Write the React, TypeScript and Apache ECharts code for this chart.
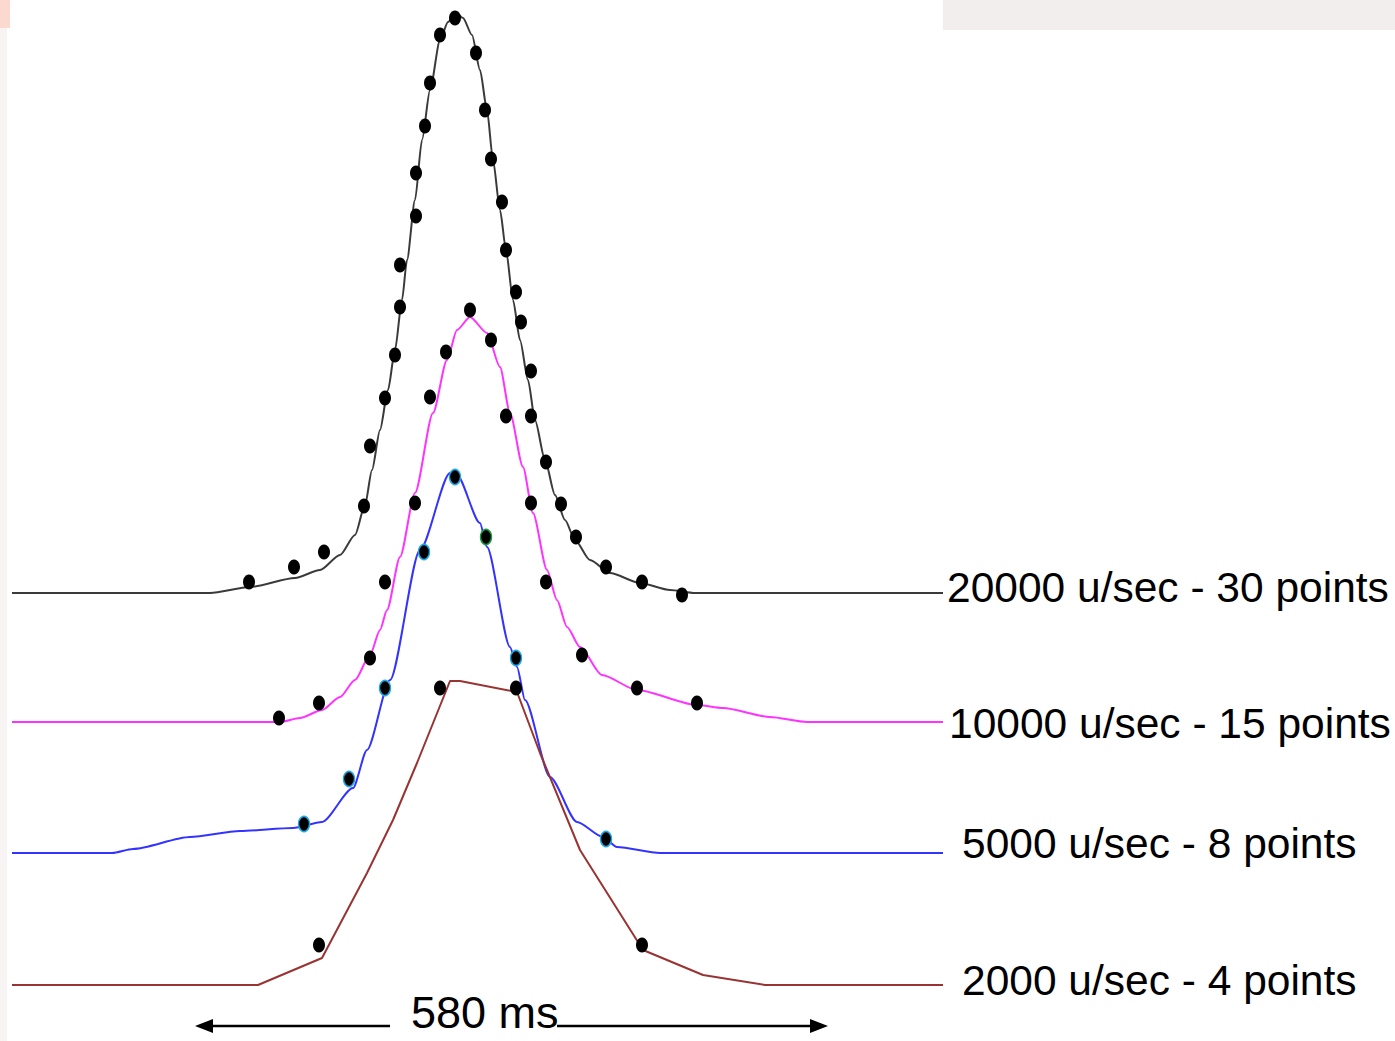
import React, { useEffect, useRef } from "react";
import * as echarts from "echarts";

// Trace baselines (vertical offset of each trace, chart units)
const traceNames = ["20000 u/sec - 30 points", "10000 u/sec - 15 points", "5000 u/sec - 8 points", "2000 u/sec - 4 points"];
const traceOffsets = [448, 319, 188, 56];
const traceColors = ["#3a3a3a", "#ff33ff", "#3333ff", "#993333"];

// 20000 u/sec trace (line)
const blackLineX = [12, 210, 250, 295, 320, 340, 355, 365, 372, 380, 388, 395, 402, 407, 415, 422, 430, 440, 448, 456, 463, 472, 480, 487, 493, 500, 506, 513, 520, 528, 535, 545, 555, 565, 575, 590, 610, 640, 670, 695, 943];
const blackLineAmp = [0, 0, 6, 15, 23, 38, 58, 88, 123, 163, 203, 243, 293, 333, 393, 453, 503, 553, 571, 580, 575, 558, 523, 483, 433, 383, 343, 293, 253, 213, 173, 133, 98, 73, 53, 33, 20, 10, 3, 0, 0];
// 20000 u/sec samples (30 points)
const blackDotX = [249, 294, 324, 364, 370, 385, 395, 400, 400, 416, 416, 425, 430, 440, 455, 476, 485, 491, 502, 506, 516, 521, 531, 531, 546, 561, 576, 606, 642, 682];
const blackDotAmp = [11, 26, 41, 87, 147, 195, 238, 286, 328, 377, 420, 467, 510, 558, 575, 540, 483, 434, 391, 343, 301, 271, 222, 177, 131, 89, 56, 26, 11, -2];

// 10000 u/sec trace
const pinkLineX = [12, 280, 300, 322, 340, 355, 370, 380, 387, 400, 415, 433, 447, 457, 470, 487, 500, 510, 523, 533, 547, 557, 567, 580, 602, 637, 697, 723, 770, 807, 943];
const pinkLineAmp = [0, 0, 4, 12, 25, 42, 67, 92, 112, 165, 229, 309, 362, 392, 405, 389, 355, 309, 255, 209, 152, 122, 95, 75, 47, 32, 17, 14, 5, 0, 0];
const pinkDotX = [279, 319, 370, 385, 415, 430, 446, 470, 491, 506, 531, 546, 582, 637, 697];
const pinkDotAmp = [4, 19, 64, 140, 219, 325, 370, 412, 382, 306, 219, 140, 67, 34, 19];

// 5000 u/sec trace
const blueLineX = [12, 112, 133, 190, 240, 293, 322, 353, 367, 390, 420, 450, 457, 480, 487, 510, 517, 525, 550, 577, 603, 617, 660, 943];
const blueLineAmp = [0, 0, 4, 16, 22, 25, 31, 65, 103, 173, 303, 380, 378, 330, 306, 206, 186, 153, 76, 31, 16, 6, 0, 0];
const blueDotX = [304, 349, 385, 424, 455, 486, 516, 606];
const blueDotAmp = [29, 74, 165, 301, 376, 316, 195, 14];

// 2000 u/sec trace
const brownLineX = [12, 258, 322, 367, 393, 417, 450, 460, 517, 540, 580, 643, 703, 765, 943];
const brownLineAmp = [0, 0, 27, 112, 165, 222, 304, 304, 293, 232, 135, 35, 10, 0, 0];
const brownDotX = [319, 440, 516, 642];
const brownDotAmp = [40, 297, 297, 40];

const spanLabel = "580 ms";

const W = 1395;
const H = 1041;

function pairs(xs: number[], amps: number[], offset: number) {
  return xs.map((x, i) => [x, offset + amps[i]]);
}

export default function App() {
  const ref = useRef<HTMLDivElement>(null);
  useEffect(() => {
    if (!ref.current) return;
    const chart = echarts.init(ref.current, null, { renderer: "svg" });
    const lines = [
      [blackLineX, blackLineAmp],
      [pinkLineX, pinkLineAmp],
      [blueLineX, blueLineAmp],
      [brownLineX, brownLineAmp],
    ];
    const dots = [
      [blackDotX, blackDotAmp],
      [pinkDotX, pinkDotAmp],
      [blueDotX, blueDotAmp],
      [brownDotX, brownDotAmp],
    ];
    const series: any[] = [];
    lines.forEach((l, i) => {
      series.push({
        type: "line",
        name: traceNames[i],
        data: pairs(l[0], l[1], traceOffsets[i]),
        smooth: i === 3 ? false : 0.25,
        smoothMonotone: "x",
        showSymbol: false,
        symbol: "none",
        lineStyle: { color: traceColors[i], width: 2 },
        z: 2,
      });
    });
    dots.forEach((d, i) => {
      const data = pairs(d[0], d[1], traceOffsets[i]).map((p, k) => {
        if (i === 2) {
          return {
            value: p,
            itemStyle: {
              color: "#000",
              opacity: 1,
              borderColor: k === 5 ? "#1a9a40" : "#1fa8e8",
              borderWidth: 1.6,
            },
          };
        }
        return { value: p };
      });
      series.push({
        type: "scatter",
        name: traceNames[i] + " samples",
        data,
        symbol: "circle",
        symbolSize: i === 2 ? [11, 15] : [12, 15],
        itemStyle: { color: "#000", opacity: 1 },
        z: 3,
      });
    });

    const labelBaselines = [586.5, 722.5, 842.5, 979.5];
    const labelLefts = [947, 949, 962, 962];

    chart.setOption({
      animation: false,
      backgroundColor: "#ffffff",
      grid: { left: 0, right: 0, top: 0, bottom: 0 },
      xAxis: { type: "value", min: 0, max: W, show: false },
      yAxis: { type: "value", min: 0, max: H, show: false },
      series,
      graphic: [
        { type: "rect", shape: { x: 943, y: 0, width: 452, height: 30 }, style: { fill: "#f2eeee" }, z: 0 },
        { type: "rect", shape: { x: 0, y: 0, width: 10, height: 28 }, style: { fill: "#fbd9cf" }, z: 0 },
        { type: "rect", shape: { x: 0, y: 28, width: 7, height: 1013 }, style: { fill: "#f8f4f4" }, z: 0 },
        ...traceNames.map((t, i) => ({
          type: "text",
          left: labelLefts[i],
          top: labelBaselines[i] - 21,
          style: {
            text: t,
            font: '42.5px "Liberation Sans", Arial, sans-serif',
            fill: "#000",
          },
          z: 5,
        })),
        {
          type: "text",
          left: 411,
          top: 990,
          style: { text: spanLabel, font: '45px "Liberation Sans", Arial, sans-serif', fill: "#000" },
          z: 5,
        },
        { type: "line", shape: { x1: 205, y1: 1026, x2: 390, y2: 1026 }, style: { stroke: "#000", lineWidth: 2.5 }, z: 5 },
        { type: "polygon", shape: { points: [[195, 1026], [213, 1019], [213, 1033]] }, style: { fill: "#000" }, z: 5 },
        { type: "line", shape: { x1: 557, y1: 1026, x2: 818, y2: 1026 }, style: { stroke: "#000", lineWidth: 2.5 }, z: 5 },
        { type: "polygon", shape: { points: [[828, 1026], [810, 1019], [810, 1033]] }, style: { fill: "#000" }, z: 5 },
      ],
    });
    return () => chart.dispose();
  }, []);
  return <div ref={ref} style={{ position: "absolute", left: 0, top: 0, width: W, height: H }} />;
}
